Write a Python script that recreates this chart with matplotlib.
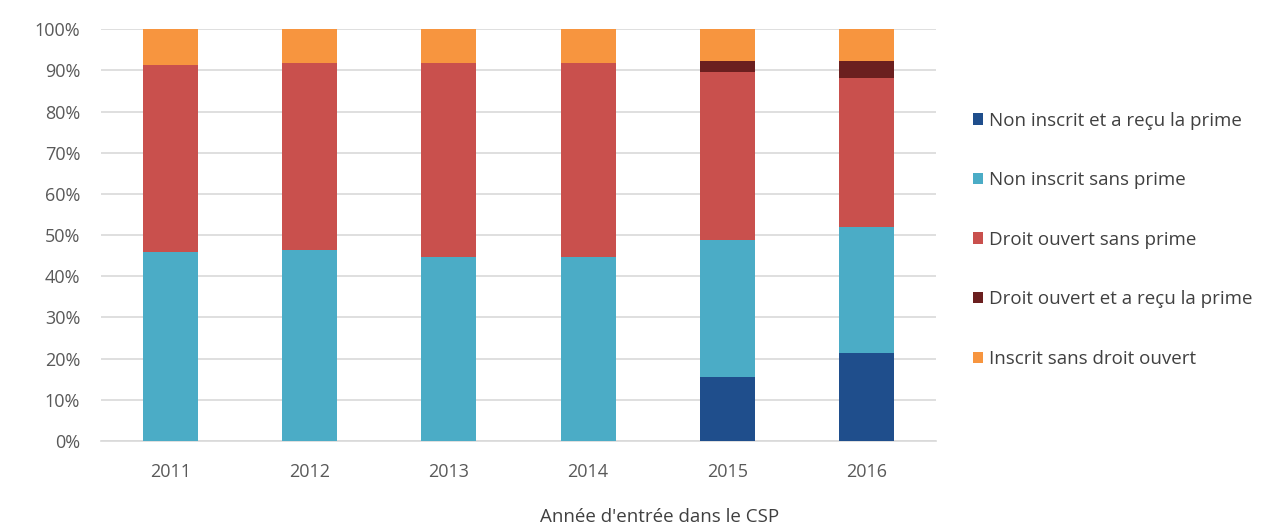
import matplotlib
matplotlib.use("Agg")
import matplotlib.pyplot as plt
import numpy as np
from matplotlib.patches import Patch

years = ["2011", "2012", "2013", "2014", "2015", "2016"]
series_names = [
    "Non inscrit et a reçu la prime",
    "Non inscrit sans prime",
    "Droit ouvert sans prime",
    "Droit ouvert et a reçu la prime",
    "Inscrit sans droit ouvert",
]
non_inscrit_prime = [0.0, 0.0, 0.0, 0.0, 15.5, 21.4]
non_inscrit_sans_prime = [45.9, 46.4, 44.7, 44.7, 33.3, 30.5]
droit_ouvert_sans_prime = [45.4, 45.3, 47.0, 47.0, 40.8, 36.2]
droit_ouvert_prime = [0.0, 0.0, 0.0, 0.0, 2.6, 4.1]
inscrit_sans_droit = [8.7, 8.3, 8.3, 8.3, 7.8, 7.8]

colors = ["#1f4e8c", "#4bacc6", "#c9504d", "#6b1f1f", "#f7953f"]

plt.rcParams["font.family"] = ["Open Sans", "DejaVu Sans"]

fig = plt.figure(figsize=(12.66, 5.26), dpi=100)
ax = fig.add_axes([0.0798, 0.1616, 0.6596, 0.783])

series = [non_inscrit_prime, non_inscrit_sans_prime, droit_ouvert_sans_prime,
          droit_ouvert_prime, inscrit_sans_droit]
x = np.arange(len(years))
bottom = np.zeros(len(years))
for vals, col, name in zip(series, colors, series_names):
    vals = np.array(vals)
    ax.bar(x, vals, width=0.395, bottom=bottom, color=col, label=name, zorder=3)
    bottom += vals

ax.set_xlim(-0.5, len(years) - 0.5)
ax.set_ylim(0, 100)
ax.set_yticks(np.arange(0, 101, 10))
ax.set_yticklabels([f"{v}%" for v in range(0, 101, 10)])
ax.set_xticks(x)
ax.set_xticklabels(years)
ax.yaxis.grid(True, color="#d9d9d9", linewidth=1.2, zorder=0)
ax.set_axisbelow(True)
for s in ["top", "right", "left"]:
    ax.spines[s].set_visible(False)
ax.spines["bottom"].set_color("#d9d9d9")
ax.spines["bottom"].set_linewidth(1.2)
ax.tick_params(axis="both", length=0, labelsize=13, colors="#595959")
ax.tick_params(axis="y", pad=15)
ax.tick_params(axis="x", pad=16)

fig.text(660 / 1266, 1 - 517 / 526, "Année d'entrée dans le CSP", ha="center",
         va="center", fontsize=13.5, color="#404040")

handles = [Patch(facecolor=c, edgecolor="none") for c in colors]
leg = fig.legend(handles, series_names, loc="upper left",
                 bbox_to_anchor=(965 / 1266, 1 - 104 / 526), frameon=False,
                 fontsize=13.5, handlelength=0.55, handleheight=0.55,
                 handletextpad=0.35, labelspacing=2.22, borderaxespad=0)
for t in leg.get_texts():
    t.set_color("#404040")

fig.savefig("out.png", dpi=100)
